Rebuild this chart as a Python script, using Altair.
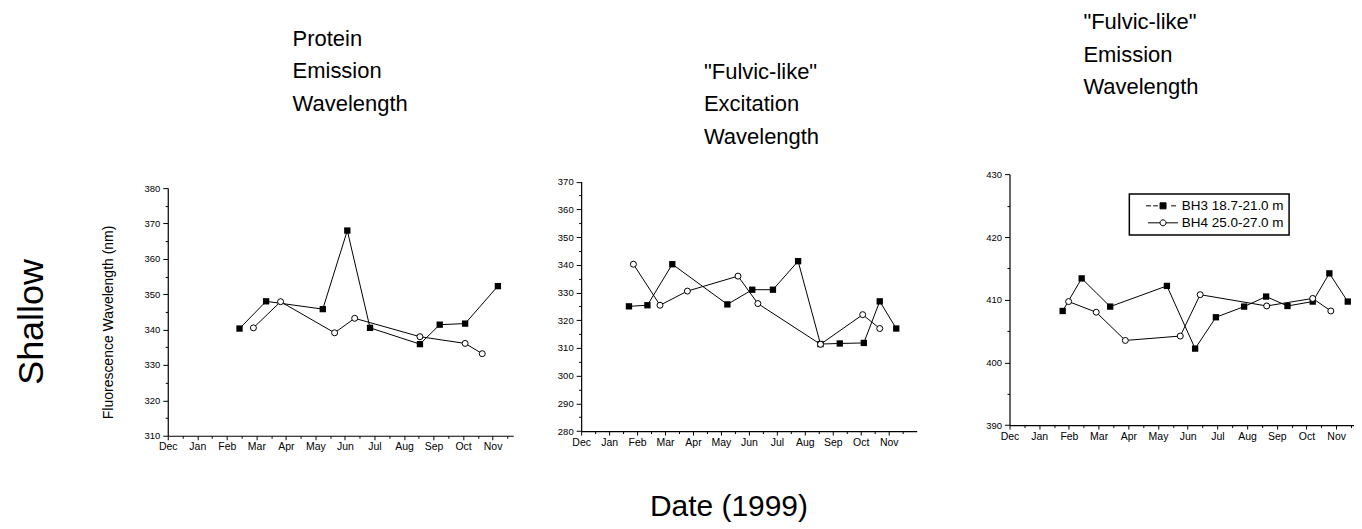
import altair as alt
import pandas as pd

FONT = "Liberation Sans"

months = ["Dec", "Jan", "Feb", "Mar", "Apr", "May", "Jun", "Jul", "Aug", "Sep", "Oct", "Nov"]
series_names = ["BH3 18.7-21.0 m", "BH4 25.0-27.0 m"]

# Panel 1: Protein emission wavelength (month index: Dec=0 ... Nov=11)
p1_bh3_month = [2.43, 3.33, 5.25, 6.08, 6.85, 8.54, 9.21, 10.07, 11.18]
p1_bh3_value = [340.3, 348.0, 345.8, 368.0, 340.5, 335.9, 341.4, 341.7, 352.3]
p1_bh4_month = [2.90, 3.82, 5.65, 6.33, 8.54, 10.07, 10.65]
p1_bh4_value = [340.5, 347.9, 339.1, 343.2, 338.0, 336.1, 333.2]

# Panel 2: "Fulvic-like" excitation wavelength
p2_bh3_month = [1.71, 2.37, 3.26, 5.23, 6.12, 6.86, 7.76, 8.56, 9.25, 10.11, 10.68, 11.27]
p2_bh3_value = [325.0, 325.4, 340.2, 325.7, 331.0, 331.0, 341.3, 311.4, 311.6, 311.8, 326.8, 317.0]
p2_bh4_month = [1.87, 2.82, 3.80, 5.61, 6.32, 8.56, 10.07, 10.68]
p2_bh4_value = [340.2, 325.4, 330.5, 335.9, 326.0, 311.3, 322.0, 317.0]

# Panel 3: "Fulvic-like" emission wavelength
p3_bh3_month = [1.79, 2.43, 3.39, 5.30, 6.25, 6.95, 7.90, 8.64, 9.36, 10.21, 10.77, 11.39]
p3_bh3_value = [408.2, 413.4, 408.9, 412.2, 402.2, 407.2, 408.9, 410.5, 409.0, 409.7, 414.2, 409.7]
p3_bh4_month = [1.99, 2.92, 3.90, 5.75, 6.42, 8.66, 10.21, 10.82]
p3_bh4_value = [409.7, 408.0, 403.5, 404.2, 410.8, 409.0, 410.2, 408.2]

panel_titles = [
    ["Protein", "Emission", "Wavelength"],
    ['"Fulvic-like"', "Excitation", "Wavelength"],
    ['"Fulvic-like"', "Emission", "Wavelength"],
]
y_domains = [[310, 380], [280, 370], [390, 430]]
x_max = [11.7, 12.0, 11.6]
y_title = "Fluorescence Wavelength (nm)"
row_label = "Shallow"
x_title = "Date (1999)"

month_list = "[" + ",".join("'" + m + "'" for m in months) + "]"
x_label_expr = "datum.value % 1 === 0 ? " + month_list + "[datum.value] : ''"
y_label_expr = "datum.value % 10 === 0 ? datum.label : ''"

# legend symbols: line + marker
legend_shapes = [
    "M-5.7,0H-4M-3.3,0H-1.7M2.7,0H4.3M-1,-1H1V1H-1Z",
    "M-5,0H-1M1,0H5M1,0A1,1,0,1,1,-1,0A1,1,0,1,1,1,0Z",
]

PLOT_H = 262  # common view height; each panel's y range sits inside it


def make_df(t3, v3, t4, v4):
    return pd.DataFrame({
        "month": t3 + t4,
        "value": v3 + v4,
        "series": [series_names[0]] * len(t3) + [series_names[1]] * len(t4),
    })


def one_row():
    return pd.DataFrame({"k": [0]})


def panel(df, ydom, xmax, width, yrange, title_lines, title_xy, anchor_xy,
          ytitle=False, legend=False, shallow=False):
    xoff = yrange[0] - PLOT_H
    xscale = alt.Scale(domain=[0, xmax], nice=False, zero=False)
    yscale = alt.Scale(domain=ydom, range=yrange, nice=False, zero=False)
    yaxis_kw = dict(
        values=list(range(ydom[0], ydom[1] + 1, 5)), labelExpr=y_label_expr,
        labelFontSize=9.5, labelPadding=3, labelFlush=False, labelOverlap=False,
        tickSize={"condition": {"test": "datum.value % 10 === 0", "value": 5}, "value": 2.5},
    )
    if ytitle:
        yaxis_kw.update(title=y_title, titleFontSize=14, titleX=-59, titleY=148,
                        titleAngle=270, titleAlign="center", titleBaseline="middle",
                        titleFontWeight="normal")
    else:
        yaxis_kw.update(title=None)
    xvals = [i * 0.5 for i in range(24) if i * 0.5 <= xmax]
    x = alt.X("month:Q", scale=xscale,
              axis=alt.Axis(values=xvals, labelExpr=x_label_expr, title=None,
                            labelFontSize=10.5, labelPadding=2, offset=xoff,
                            labelFlush=False, labelOverlap=False,
                            tickSize={"condition": {"test": "datum.value % 1 === 0", "value": 4},
                                      "value": 2.5}))
    y = alt.Y("value:Q", scale=yscale, axis=alt.Axis(**yaxis_kw))
    base = alt.Chart(df)
    lines = base.mark_line(color="black", strokeWidth=1).encode(x=x, y=y, detail="series:N")
    squares = base.transform_filter(alt.datum.series == series_names[0]).mark_square(
        color="black", size=40, opacity=1).encode(x=x, y=y)
    circles = base.transform_filter(alt.datum.series == series_names[1]).mark_point(
        shape="circle", filled=True, fill="white", stroke="black", strokeWidth=1,
        size=36, opacity=1).encode(x=x, y=y)
    title = alt.Chart(one_row()).mark_text(
        text=title_lines, align="left", baseline="top", fontSize=22, lineHeight=32.5,
        font=FONT, color="black").encode(x=alt.value(title_xy[0]), y=alt.value(title_xy[1]))
    anchor = alt.Chart(one_row()).mark_text(
        text=".", opacity=0, align="left", baseline="top", fontSize=2).encode(
        x=alt.value(anchor_xy[0]), y=alt.value(anchor_xy[1]))
    layers = [lines, squares, circles, title, anchor]
    if shallow:
        layers.append(alt.Chart(one_row()).mark_text(
            text=row_label, angle=270, fontSize=36, align="center", baseline="middle",
            font=FONT, color="black").encode(x=alt.value(-136), y=alt.value(148)))
    if legend:
        leg_df = pd.DataFrame({"series": series_names, "month": [None, None],
                               "value": [None, None]})
        leg = alt.Legend(title=None, orient="none", legendX=120, legendY=20,
                         strokeColor="black", padding=5,
                         symbolSize=36, symbolOffset=22, labelOffset=12,
                         labelFontSize=13.5, labelFont=FONT, labelColor="black",
                         rowPadding=2, symbolStrokeColor="black", symbolStrokeWidth=1,
                         symbolOpacity=1, fillColor="white")
        layers.append(alt.Chart(leg_df).mark_point(
            filled=True, stroke="black", strokeWidth=1, size=36, opacity=1).encode(
            x=x, y=y,
            shape=alt.Shape("series:N", scale=alt.Scale(domain=series_names, range=legend_shapes), legend=leg),
            fill=alt.Fill("series:N", scale=alt.Scale(domain=series_names, range=["black", "white"]), legend=leg),
            stroke=alt.Stroke("series:N", scale=alt.Scale(domain=series_names, range=["black", "black"]), legend=leg),
        ))
    return alt.layer(*layers).properties(width=width, height=PLOT_H)


p1 = panel(make_df(p1_bh3_month, p1_bh3_value, p1_bh4_month, p1_bh4_value),
           y_domains[0], x_max[0], 346, [262, 14], panel_titles[0], (125, -145.5), (-160, -166),
           ytitle=True, shallow=True)
p2 = panel(make_df(p2_bh3_month, p2_bh3_value, p2_bh4_month, p2_bh4_value),
           y_domains[1], x_max[1], 336, [257.3, 7.5], panel_titles[1], (123, -112.5), (-41, -166))
p3 = panel(make_df(p3_bh3_month, p3_bh3_value, p3_bh4_month, p3_bh4_value),
           y_domains[2], x_max[2], 345, [251.3, 0.2], panel_titles[2], (74, -162), (-66, -166),
           legend=True)

chart = alt.hconcat(p1, p2, p3, spacing=27).resolve_scale(
    shape="independent", fill="independent", stroke="independent"
).resolve_legend(shape="independent", fill="independent", stroke="independent").properties(
    title=alt.Title(x_title, orient="bottom", anchor="middle", fontSize=30, font=FONT,
                    fontWeight="normal", offset=40, dx=48, color="black"),
    padding=0,
).configure_view(strokeWidth=0).configure_axis(
    domainColor="black", tickColor="black", labelColor="black", titleColor="black",
    labelFont=FONT, titleFont=FONT, grid=False, domainWidth=1.2, tickWidth=1,
).configure_legend(strokeWidth=1.5)

chart.save("out.html", embed_options={"renderer": "svg", "actions": False})
